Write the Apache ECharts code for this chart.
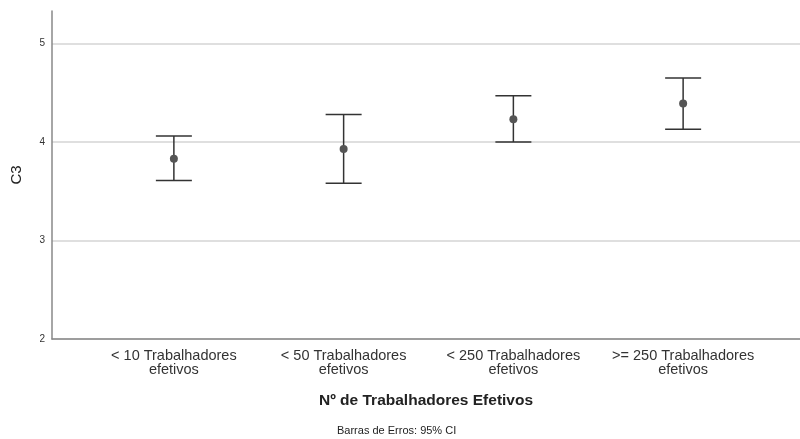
<!DOCTYPE html>
<html><head><meta charset="utf-8">
<script src="https://cdn.jsdelivr.net/npm/echarts@6/dist/echarts.min.js"></script>
<style>html,body{margin:0;padding:0;background:#fff}#c{width:800px;height:439px}</style>
</head><body><div id="c"></div>
<script>
const categories = ['< 10 Trabalhadores\nefetivos', '< 50 Trabalhadores\nefetivos', '< 250 Trabalhadores\nefetivos', '>= 250 Trabalhadores\nefetivos'];
const means = [3.83, 3.93, 4.23, 4.39];
const lower = [3.61, 3.58, 4.00, 4.13];
const upper = [4.06, 4.28, 4.47, 4.65];
const yTicks = [2, 3, 4, 5];

const FONT = 'Liberation Sans, Arial, sans-serif';
const chart = echarts.init(document.getElementById('c'), null, {renderer: 'canvas'});
const errData = categories.map((c, i) => [i, lower[i], upper[i]]);
chart.setOption({
  animation: false,
  textStyle: {fontFamily: FONT},
  grid: [
    {left: 52, right: 0, top: 11, bottom: 100},
    {left: 89, right: 32, top: 11, bottom: 100}
  ],
  xAxis: [
    {gridIndex: 0, type: 'value', min: 0, max: 1, axisLine: {show: true, lineStyle: {color: '#888', width: 1.5}},
     axisTick: {show: false}, axisLabel: {show: false}, splitLine: {show: false},
     name: 'Nº de Trabalhadores Efetivos', nameLocation: 'middle', nameGap: 54,
     nameTextStyle: {fontFamily: FONT, fontSize: 15.5, fontWeight: 'bold', color: '#222'}},
    {gridIndex: 1, type: 'category', data: categories, axisLine: {show: false}, axisTick: {show: false},
     axisLabel: {interval: 0, hideOverlap: false, fontFamily: FONT, fontSize: 14.5, color: '#333', lineHeight: 14, margin: 10}}
  ],
  yAxis: [
    {gridIndex: 0, type: 'value', min: 2, max: 5.33, interval: 1,
     axisLine: {show: true, lineStyle: {color: '#888', width: 1.5}}, axisTick: {show: false},
     axisLabel: {fontFamily: FONT, fontSize: 10, color: '#333', margin: 7, showMaxLabel: false,
       formatter: v => yTicks.includes(v) ? String(v) : ''},
     splitLine: {show: true, showMaxLine: false, lineStyle: {color: '#d4d4d4', width: 1.5}},
     name: 'C3', nameLocation: 'middle', nameGap: 28, nameRotate: 90,
     nameTextStyle: {fontFamily: FONT, fontSize: 15, color: '#222'}},
    {gridIndex: 1, type: 'value', min: 2, max: 5.33, show: false, splitLine: {show: false}}
  ],
  graphic: [{type: 'text', left: 337, top: 425, style: {text: 'Barras de Erros: 95% CI', font: '11px ' + FONT, fill: '#222'}}],
  series: [
    {type: 'custom', xAxisIndex: 1, yAxisIndex: 1, data: errData,
     renderItem: (params, api) => {
       const x = api.coord([api.value(0), api.value(1)])[0];
       const yl = api.coord([api.value(0), api.value(1)])[1];
       const yu = api.coord([api.value(0), api.value(2)])[1];
       const hw = 18;
       const st = {stroke: '#333', lineWidth: 1.5};
       return {type: 'group', children: [
         {type: 'line', shape: {x1: x, y1: yl, x2: x, y2: yu}, style: st},
         {type: 'line', shape: {x1: x - hw, y1: yl, x2: x + hw, y2: yl}, style: st},
         {type: 'line', shape: {x1: x - hw, y1: yu, x2: x + hw, y2: yu}, style: st}
       ]};
     }, z: 2},
    {type: 'scatter', xAxisIndex: 1, yAxisIndex: 1, data: means.map((m, i) => [i, m]),
     symbol: 'circle', symbolSize: 8, itemStyle: {color: '#555', opacity: 1}, z: 3}
  ]
});
</script></body></html>
